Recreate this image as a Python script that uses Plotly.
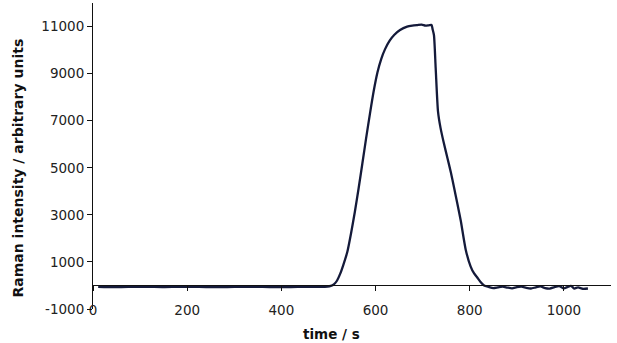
import plotly.graph_objects as go

# time in seconds
time_s = [11, 30, 60, 90, 120, 150, 180, 210, 240, 270, 300, 330, 360, 390, 420, 450, 480, 498,
          505, 512, 518, 525, 532, 540, 548, 556, 564, 572, 580, 588, 596, 604, 612, 620, 630,
          640, 652, 667, 678, 689, 698, 706, 713, 719, 721, 724, 727.7, 732.6, 738, 745, 752.5,
          760, 766.7, 774, 781, 791.5, 802, 809, 816, 823, 830.5,
          840, 850, 860, 870, 880, 890, 900, 910, 920, 930, 940, 950, 960, 970, 980, 990, 1000,
          1008, 1015, 1022, 1030, 1040, 1051]
# Raman intensity, arbitrary units
intensity = [-60, -70, -65, -55, -60, -70, -60, -55, -65, -70, -60, -55, -60, -70, -65, -55, -60, -50,
             -20, 60, 200, 500, 900, 1420, 2220, 3120, 4120, 5180, 6260, 7280, 8250, 9050, 9620,
             10030, 10400, 10650, 10850, 10994, 11040, 11064, 11080, 11036, 11050, 11064, 10900,
             10641, 9232, 7400, 6695, 6050, 5426, 4800, 4158, 3450, 2748, 1520, 800, 520, 340, 150, 0,
             -60, -110, -80, -50, -90, -120, -70, -50, -100, -130, -80, -40, -110, -130, -70,
             -30, -120, -60, -20, -130, -80, -140, -130]

x_ticks = [0, 200, 400, 600, 800, 1000]
y_ticks = [-1000, 1000, 3000, 5000, 7000, 9000, 11000]

line_color = "#141a3a"
font_family = "DejaVu Sans"

fig = go.Figure()
fig.add_trace(go.Scatter(x=time_s, y=intensity, mode="lines",
                         line=dict(color=line_color, width=2.3, shape="spline", smoothing=0.6),
                         showlegend=False, hoverinfo="skip"))

fig.update_layout(
    width=617, height=343,
    margin=dict(l=93, r=6, t=3, b=34),
    paper_bgcolor="white", plot_bgcolor="white",
    font=dict(family=font_family, size=13.5, color="#222222"),
    xaxis=dict(range=[0, 1100], tickvals=x_ticks, ticktext=[str(v) for v in x_ticks],
               showgrid=False, zeroline=False, showline=True, linecolor="#111111", linewidth=1,
               ticks="outside", ticklen=5, tickcolor="#111111",
               anchor="free", position=1000 / 13000, ticklabelstandoff=7,
               tickfont=dict(family=font_family, size=13.5, color="#222222")),
    yaxis=dict(range=[-1000, 12000], tickvals=y_ticks, ticktext=[str(v) for v in y_ticks],
               showgrid=False, zeroline=False, showline=True, linecolor="#111111", linewidth=1,
               ticks="outside", ticklen=5, tickcolor="#111111",
               tickfont=dict(family=font_family, size=13.5, color="#222222")),
    annotations=[
        dict(text="<b>time / s</b>", xref="paper", yref="paper", x=(331 - 93) / (611 - 93), y=0,
             yshift=-25, xanchor="center", yanchor="middle", showarrow=False,
             font=dict(family=font_family, size=13.5, color="#111111")),
        dict(text="<b>Raman intensity / arbitrary units</b>", xref="paper", yref="paper",
             x=0, xshift=-76, y=(309 - 168.5) / (309 - 3), xanchor="center", yanchor="middle",
             textangle=-90, showarrow=False,
             font=dict(family=font_family, size=14, color="#111111")),
    ],
)

fig.write_html("out.html")
